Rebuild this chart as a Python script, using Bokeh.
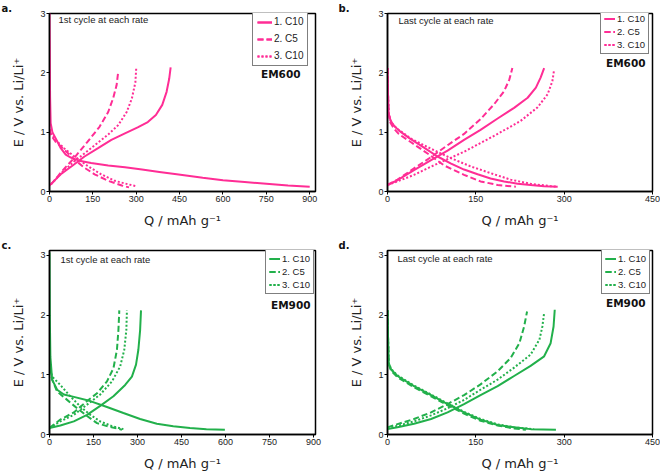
from bokeh.plotting import figure
from bokeh.layouts import gridplot
from bokeh.models import Label, Legend, LegendItem, FixedTicker, Range1d, Title
from bokeh.embed import file_html
from bokeh.resources import INLINE

PINK = "#ff2d95"
GREEN = "#22b04b"

SERIES_LABELS = ["1. C10", "2. C5", "3. C10"]
X_TICKS_WIDE = [0, 150, 300, 450, 600, 750, 900]
X_TICKS_NARROW = [0, 150, 300, 450]
Y_TICKS = [0, 1, 2, 3]

# ---------------- panel a: EM600, 1st cycle at each rate ----------------
A1_DIS_Q = [0, 1, 2, 4, 10, 21, 39, 56, 74, 103, 144, 203, 261, 320, 380, 440, 530, 600, 675, 750, 825, 900]
A1_DIS_E = [3.05, 2.4, 1.6, 1.15, 1.0, 0.90, 0.73, 0.62, 0.57, 0.52, 0.48, 0.44, 0.41, 0.37, 0.33, 0.29, 0.23, 0.19, 0.16, 0.13, 0.10, 0.08]
A1_CHG_Q = [0, 10, 39, 86, 121, 168, 214, 261, 305, 340, 368, 390, 405, 414, 419]
A1_CHG_E = [0.10, 0.15, 0.29, 0.46, 0.59, 0.73, 0.87, 0.98, 1.08, 1.17, 1.29, 1.46, 1.68, 1.90, 2.09]
A2_DIS_Q = [0, 5, 21, 50, 86, 121, 156, 203, 250, 275]
A2_DIS_E = [1.05, 0.95, 0.84, 0.71, 0.54, 0.40, 0.29, 0.18, 0.10, 0.07]
A2_CHG_Q = [5, 20, 39, 86, 132, 173, 203, 220, 232, 238]
A2_CHG_E = [0.12, 0.20, 0.32, 0.57, 0.84, 1.09, 1.34, 1.57, 1.79, 2.03]
A3_DIS_Q = [0, 5, 21, 50, 86, 132, 179, 226, 273, 300]
A3_DIS_E = [1.05, 0.97, 0.87, 0.73, 0.59, 0.43, 0.29, 0.18, 0.12, 0.09]
A3_CHG_Q = [5, 20, 45, 86, 144, 203, 238, 267, 285, 297, 300]
A3_CHG_E = [0.12, 0.20, 0.33, 0.51, 0.73, 0.96, 1.12, 1.34, 1.57, 1.84, 2.08]

# ---------------- panel b: EM600, last cycle at each rate ----------------
B1_DIS_Q = [0, 1, 2, 5, 10, 19, 37, 62, 85, 108, 130, 153, 175, 198, 221, 243, 266, 289]
B1_DIS_E = [2.08, 1.6, 1.32, 1.20, 1.12, 1.03, 0.90, 0.74, 0.59, 0.47, 0.37, 0.29, 0.22, 0.17, 0.13, 0.11, 0.09, 0.08]
B1_CHG_Q = [0, 17, 45, 74, 102, 130, 158, 187, 215, 238, 252, 260, 266]
B1_CHG_E = [0.11, 0.19, 0.36, 0.53, 0.69, 0.87, 1.04, 1.23, 1.41, 1.58, 1.75, 1.92, 2.08]
B2_DIS_Q = [0, 1, 2, 5, 11, 19, 40, 68, 96, 130, 158, 187, 218]
B2_DIS_E = [2.08, 1.6, 1.30, 1.16, 1.06, 0.97, 0.83, 0.64, 0.44, 0.28, 0.17, 0.11, 0.08]
B2_CHG_Q = [0, 17, 45, 74, 102, 130, 158, 181, 198, 207, 212]
B2_CHG_E = [0.11, 0.20, 0.39, 0.58, 0.78, 0.97, 1.22, 1.47, 1.69, 1.89, 2.08]
B3_DIS_Q = [0, 1, 2, 6, 15, 40, 74, 108, 142, 175, 209, 243, 277, 289]
B3_DIS_E = [2.08, 1.6, 1.32, 1.17, 1.07, 0.89, 0.72, 0.56, 0.42, 0.31, 0.20, 0.13, 0.09, 0.08]
B3_CHG_Q = [0, 17, 45, 74, 130, 187, 226, 255, 272, 280, 283]
B3_CHG_E = [0.11, 0.17, 0.28, 0.42, 0.67, 0.97, 1.19, 1.42, 1.64, 1.86, 2.06]

# ---------------- panel c: EM900, 1st cycle at each rate ----------------
C1_DIS_Q = [0, 1, 3, 9, 26, 49, 83, 139, 196, 252, 309, 366, 422, 479, 535, 598]
C1_DIS_E = [3.05, 2.0, 1.3, 0.92, 0.75, 0.67, 0.63, 0.56, 0.46, 0.36, 0.26, 0.18, 0.14, 0.11, 0.09, 0.08]
C1_CHG_Q = [0, 37, 83, 128, 173, 218, 258, 281, 295, 303, 309, 312]
C1_CHG_E = [0.11, 0.15, 0.22, 0.33, 0.48, 0.64, 0.83, 0.97, 1.17, 1.42, 1.75, 2.08]
C2_DIS_Q = [0, 2, 9, 26, 60, 94, 128, 162, 196, 247]
C2_DIS_E = [1.42, 1.1, 0.92, 0.72, 0.58, 0.44, 0.31, 0.19, 0.14, 0.08]
C2_CHG_Q = [0, 37, 83, 128, 162, 196, 218, 230, 235, 238]
C2_CHG_E = [0.11, 0.25, 0.37, 0.56, 0.69, 0.89, 1.11, 1.42, 1.75, 2.08]
C3_DIS_Q = [0, 2, 9, 37, 71, 105, 139, 173, 213, 252]
C3_DIS_E = [1.42, 1.1, 0.97, 0.83, 0.64, 0.47, 0.33, 0.22, 0.14, 0.09]
C3_CHG_Q = [0, 37, 83, 128, 173, 213, 241, 255, 262, 264]
C3_CHG_E = [0.11, 0.22, 0.33, 0.50, 0.67, 0.89, 1.14, 1.42, 1.75, 2.08]

# ---------------- panel d: EM900, last cycle at each rate ----------------
D1_DIS_Q = [0, 1, 2, 6, 17, 45, 74, 102, 130, 158, 187, 215, 243, 286]
D1_DIS_E = [2.08, 1.6, 1.2, 1.09, 0.98, 0.81, 0.66, 0.51, 0.37, 0.25, 0.16, 0.12, 0.09, 0.08]
D1_CHG_Q = [0, 17, 45, 74, 102, 130, 158, 187, 215, 243, 266, 277, 282, 284]
D1_CHG_E = [0.09, 0.12, 0.18, 0.26, 0.37, 0.51, 0.66, 0.81, 0.98, 1.15, 1.31, 1.53, 1.81, 2.09]
D2_DIS_Q = [0, 1, 2, 6, 17, 45, 74, 102, 130, 158, 187, 215, 235]
D2_DIS_E = [2.08, 1.6, 1.18, 1.07, 0.96, 0.79, 0.64, 0.49, 0.35, 0.23, 0.15, 0.10, 0.08]
D2_CHG_Q = [0, 45, 74, 102, 130, 158, 187, 209, 224, 232, 237]
D2_CHG_E = [0.12, 0.26, 0.37, 0.51, 0.66, 0.84, 1.06, 1.28, 1.53, 1.81, 2.06]
D3_DIS_Q = [0, 1, 2, 6, 17, 45, 74, 102, 130, 158, 187, 215, 249]
D3_DIS_E = [2.08, 1.6, 1.2, 1.10, 0.99, 0.82, 0.67, 0.52, 0.38, 0.26, 0.17, 0.12, 0.09]
D3_CHG_Q = [0, 45, 74, 102, 130, 158, 187, 215, 243, 258, 263, 266]
D3_CHG_E = [0.10, 0.22, 0.32, 0.44, 0.58, 0.75, 0.92, 1.12, 1.34, 1.59, 1.81, 2.04]

DASHES = ["solid", "6 3", "2 2"]


def make_panel(letter, width, height, bl, br, bt, bb, xmax, ymax, xticks, color, series,
               note, note_xy, sample, sample_xy, letter_off, legend_loc, big_legend):
    p = figure(width=width, height=height, output_backend="svg", toolbar_location=None,
               x_range=Range1d(0, xmax), y_range=Range1d(0, ymax),
               min_border_left=bl, min_border_right=br, min_border_top=bt, min_border_bottom=bb)
    p.title = Title(text=letter, align="left", offset=letter_off, standoff=0,
                    text_font="DejaVu Sans", text_font_size="10px",
                    text_font_style="bold", text_color="#111111")
    p.xgrid.visible = False
    p.ygrid.visible = False
    p.outline_line_color = "black"
    p.outline_line_width = 1.5
    p.background_fill_color = "white"
    p.border_fill_color = "white"

    p.xaxis.ticker = FixedTicker(ticks=xticks)
    p.yaxis.ticker = FixedTicker(ticks=Y_TICKS)
    p.xaxis.axis_label = "Q / mAh g\u207b\u00b9"
    p.yaxis.axis_label = "E / V vs. Li/Li\u207a"
    for ax in (p.xaxis[0], p.yaxis[0]):
        ax.axis_line_color = "black"
        ax.axis_line_width = 1.5
        ax.major_tick_line_color = "black"
        ax.major_tick_out = 3
        ax.major_tick_in = 0
        ax.minor_tick_out = 0
        ax.minor_tick_in = 0
        ax.major_label_text_font = "Liberation Sans"
        ax.major_label_text_font_size = "9px"
        ax.major_label_text_color = "#222222"
        ax.major_label_standoff = 1
        ax.axis_label_text_font = "DejaVu Sans"
        ax.axis_label_text_font_size = "13px"
        ax.axis_label_text_font_style = "normal"
        ax.axis_label_text_color = "#222222"
    p.xaxis.axis_label_standoff = 8
    p.yaxis.axis_label_standoff = 11

    items = []
    for (lab, dash, dq, de, cq, ce) in series:
        r1 = p.line(cq, ce, line_color=color, line_width=2, line_dash=dash)
        r2 = p.line(dq, de, line_color=color, line_width=2, line_dash=dash)
        items.append(LegendItem(label=lab, renderers=[r1, r2]))

    if big_legend:
        lg = Legend(items=items, location=legend_loc, glyph_width=15, glyph_height=10,
                    label_height=10, label_standoff=2, padding=4, spacing=6, margin=0)
        lg.label_text_font_size = "10px"
    else:
        lg = Legend(items=items, location=legend_loc, glyph_width=11, glyph_height=9,
                    label_height=9, label_standoff=2, padding=3, spacing=2, margin=0)
        lg.label_text_font_size = "9.5px"
    lg.border_line_color = "black"
    lg.border_line_width = 1
    lg.background_fill_color = "white"
    lg.background_fill_alpha = 1
    lg.label_text_font = "Liberation Sans"
    lg.label_text_color = "#222222"
    p.add_layout(lg)

    p.add_layout(Label(x=note_xy[0], y=note_xy[1], x_units="screen", y_units="screen",
                       text=note, text_font="Liberation Sans", text_font_size="9.5px",
                       text_color="#222222", text_baseline="middle"))
    p.add_layout(Label(x=sample_xy[0], y=sample_xy[1], x_units="screen", y_units="screen",
                       text=sample, text_font="DejaVu Sans", text_font_size="10.5px",
                       text_font_style="bold", text_color="#111111",
                       text_align="right", text_baseline="middle"))
    return p


series_a = [(SERIES_LABELS[0], DASHES[0], A1_DIS_Q, A1_DIS_E, A1_CHG_Q, A1_CHG_E),
            (SERIES_LABELS[1], DASHES[1], A2_DIS_Q, A2_DIS_E, A2_CHG_Q, A2_CHG_E),
            (SERIES_LABELS[2], DASHES[2], A3_DIS_Q, A3_DIS_E, A3_CHG_Q, A3_CHG_E)]
series_b = [(SERIES_LABELS[0], DASHES[0], B1_DIS_Q, B1_DIS_E, B1_CHG_Q, B1_CHG_E),
            (SERIES_LABELS[1], DASHES[1], B2_DIS_Q, B2_DIS_E, B2_CHG_Q, B2_CHG_E),
            (SERIES_LABELS[2], DASHES[2], B3_DIS_Q, B3_DIS_E, B3_CHG_Q, B3_CHG_E)]
series_c = [(SERIES_LABELS[0], DASHES[0], C1_DIS_Q, C1_DIS_E, C1_CHG_Q, C1_CHG_E),
            (SERIES_LABELS[1], DASHES[1], C2_DIS_Q, C2_DIS_E, C2_CHG_Q, C2_CHG_E),
            (SERIES_LABELS[2], DASHES[2], C3_DIS_Q, C3_DIS_E, C3_CHG_Q, C3_CHG_E)]
series_d = [(SERIES_LABELS[0], DASHES[0], D1_DIS_Q, D1_DIS_E, D1_CHG_Q, D1_CHG_E),
            (SERIES_LABELS[1], DASHES[1], D2_DIS_Q, D2_DIS_E, D2_CHG_Q, D2_CHG_E),
            (SERIES_LABELS[2], DASHES[2], D3_DIS_Q, D3_DIS_E, D3_CHG_Q, D3_CHG_E)]

TOP_H, BOT_H = 236, 237
pa = make_panel("a.", 330, TOP_H, 49, 15, 0, 45, 920, 3.0, X_TICKS_WIDE, PINK, series_a,
                "1st cycle at each rate", (9, 172), "EM600", (251, 118), -48,
                (203, 125), True)
pb = make_panel("b.", 330, TOP_H, 57, 8, 0, 45, 450, 3.0, X_TICKS_NARROW, PINK, series_b,
                "Last cycle at each rate", (11, 171), "EM600", (258, 129), -49,
                (213, 137), False)
pc = make_panel("c.", 330, BOT_H, 49, 15, 14, 38, 907, 3.083, X_TICKS_WIDE, GREEN, series_c,
                "1st cycle at each rate", (11, 175), "EM900", (261, 130), -48,
                (216, 140), False)
pd_ = make_panel("d.", 330, BOT_H, 57, 8, 14, 38, 450, 3.083, X_TICKS_NARROW, GREEN, series_d,
                 "Last cycle at each rate", (10, 176), "EM900", (258, 132), -49,
                 (214, 140), False)

grid = gridplot([[pa, pb], [pc, pd_]], toolbar_location=None)
open("out.html", "w").write(file_html(grid, INLINE))
